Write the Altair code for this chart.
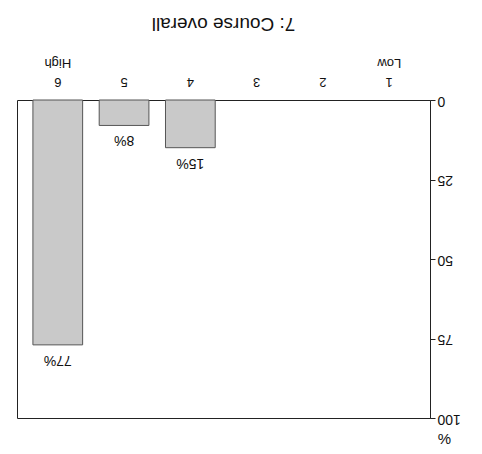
import altair as alt
import pandas as pd

categories = ["1", "2", "3", "4", "5", "6"]
percents = [0, 0, 0, 15, 8, 77]
value_labels = ["", "", "", "15%", "8%", "77%"]
display_order = ["6", "5", "4", "3", "2", "1"]
y_ticks = [0, 25, 50, 75, 100]
title_text = "7: Course overall"

df = pd.DataFrame({"cat": categories, "pct": percents, "label": value_labels})

FONT = "Liberation Sans"

x_enc = alt.X(
    "cat:N",
    sort=display_order,
    scale=alt.Scale(paddingInner=0.25, paddingOuter=0.24),
    axis=alt.Axis(
        orient="top", title=None, labelAngle=180, ticks=False, domain=False,
        labelExpr="datum.value == '6' ? ['6','High'] : (datum.value == '1' ? ['1','Low'] : datum.value)",
        labelBaseline="top", labelAlign="center", labelPadding=13,
        labelFontSize=13, labelLineHeight=19, labelColor="#111", labelFont=FONT,
    ),
)
y_enc = alt.Y(
    "pct:Q",
    scale=alt.Scale(domain=[0, 100], reverse=True, nice=False),
    axis=alt.Axis(
        orient="right", values=y_ticks, labelAngle=180, labelAlign="right",
        labelBaseline="middle", tickSize=5, labelPadding=2, labelFontSize=14,
        labelColor="#111", labelFont=FONT, grid=False, domainColor="#222",
        tickColor="#222", title="%", titleAngle=0, titleX=14, titleY=338,
        titleAlign="center", titleBaseline="middle", titleFontSize=15,
        titleFontWeight="normal", titleFont=FONT, titleColor="#111",
    ),
)

bars = alt.Chart(df).transform_filter("datum.pct > 0").mark_bar(
    fill="#c9c9c9", stroke="#555", strokeWidth=1
).encode(x=x_enc, y=y_enc)

texts = alt.Chart(df).mark_text(
    angle=180, dy=-15, baseline="middle", align="center", fontSize=14,
    font=FONT, color="#111"
).encode(x=x_enc, y=y_enc, text="label:N")

chart = alt.layer(bars, texts).properties(
    width=413, height=318,
    padding={"left": 9, "top": 92, "right": 44, "bottom": 28},
    autosize=alt.AutoSizeParams(type="none"),
    title=alt.TitleParams(
        title_text, angle=180, fontSize=19, fontWeight="normal", font=FONT,
        color="#111", anchor="middle", offset=12, baseline="middle",
    ),
).configure_view(stroke="#222", strokeWidth=1)

chart.save("out.html", embed_options={"renderer": "svg", "actions": False})
